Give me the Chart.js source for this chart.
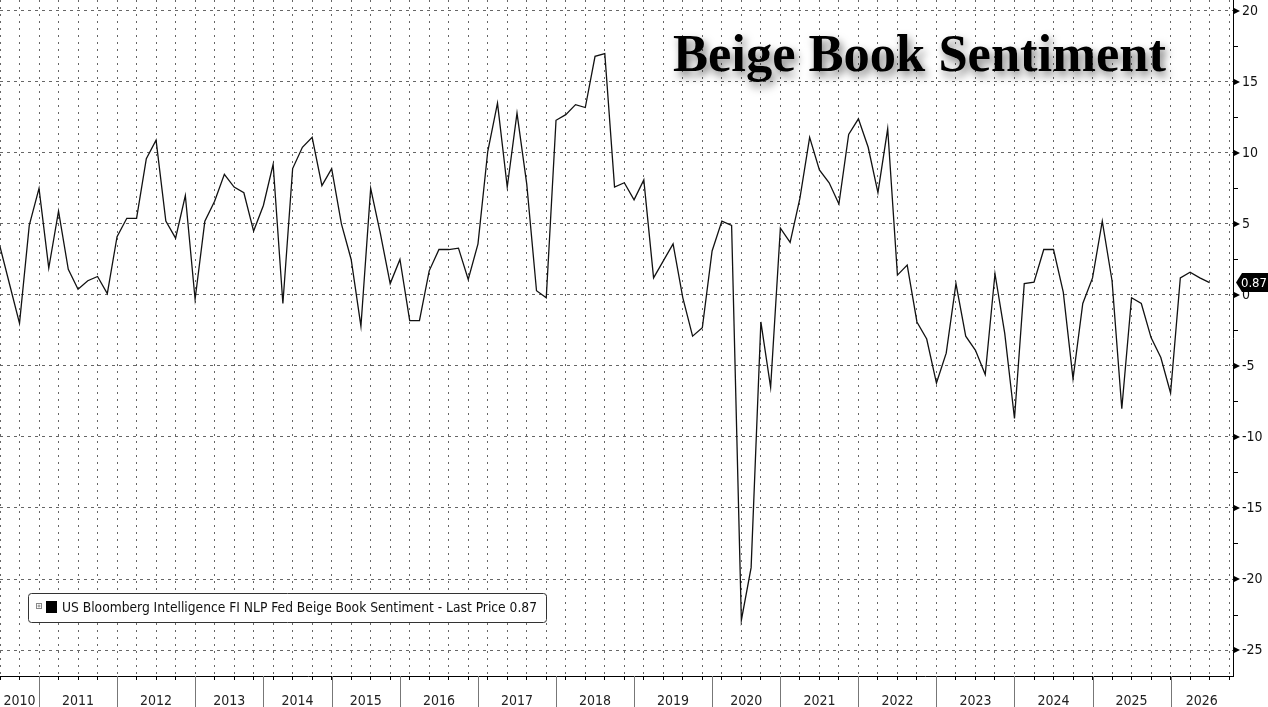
<!DOCTYPE html>
<html>
<head>
<meta charset="utf-8">
<title>Beige Book Sentiment</title>
<script src="https://cdn.jsdelivr.net/npm/chart.js@4.4.1/dist/chart.umd.min.js"></script>
<style>
  html, body { margin: 0; padding: 0; background: #fff; }
  #wrap { width: 1268px; height: 707px; }
</style>
</head>
<body>
<div id="wrap"><canvas id="beigeChart" width="1268" height="707"></canvas></div>
<script>
// year labels on the bottom axis and how many releases fall in each one
const years = [2010, 2011, 2012, 2013, 2014, 2015, 2016, 2017, 2018, 2019, 2020, 2021, 2022, 2023, 2024, 2025, 2026];
const pointsPerYear = [4, 8, 8, 7, 7, 7, 8, 8, 8, 8, 7, 8, 8, 8, 8, 8, 5];

// US Bloomberg Intelligence FI NLP Fed Beige Book Sentiment, one value per release
const sentiment = [
  3.4, 0.7, -2.0, 4.9,
  7.5, 1.9, 5.9, 1.8, 0.4, 1.0, 1.3, 0.1,
  4.1, 5.4, 5.4, 9.6, 10.9, 5.2, 4.0, 7.0,
  -0.3, 5.2, 6.6, 8.5, 7.6, 7.2, 4.5,
  6.3, 9.2, -0.6, 8.9, 10.4, 11.1, 7.7,
  8.9, 5.0, 2.5, -2.2, 7.5, 4.3, 0.8,
  2.5, -1.8, -1.8, 1.7, 3.2, 3.2, 3.3, 1.1,
  3.6, 10.1, 13.5, 7.6, 12.8, 7.8, 0.3, -0.2,
  12.3, 12.7, 13.4, 13.2, 16.8, 17.0, 7.6, 7.9,
  6.7, 8.1, 1.2, 2.4, 3.6, -0.2, -2.9, -2.3,
  3.1, 5.2, 4.9, -22.9, -19.2, -1.9, -6.5,
  4.7, 3.7, 6.8, 11.1, 8.8, 7.9, 6.4, 11.3,
  12.4, 10.4, 7.2, 11.7, 1.4, 2.1, -1.9, -3.1,
  -6.2, -4.1, 0.8, -2.9, -3.9, -5.6, 1.5, -2.7,
  -8.7, 0.8, 0.9, 3.2, 3.2, 0.2, -5.9, -0.6,
  1.2, 5.2, 1.0, -8.0, -0.2, -0.6, -3.0, -4.4,
  -6.9, 1.2, 1.6, 1.2, 0.87
];

const lastPrice = sentiment[sentiment.length - 1];
const narrowFont = '"Liberation Sans Narrow", "DejaVu Sans Condensed", sans-serif';

// first point index of every year
const yearStarts = [];
let acc = 0;
pointsPerYear.forEach(n => { yearStarts.push(acc); acc += n; });

const axisDecor = {
  id: 'axisDecor',
  afterDraw(chart) {
    const { ctx, chartArea: area, scales: { x, y } } = chart;
    ctx.save();

    // year dividers and labels under the axis
    ctx.strokeStyle = '#777';
    ctx.lineWidth = 1;
    ctx.font = '14px ' + narrowFont;
    ctx.fillStyle = '#222';
    ctx.textAlign = 'center';
    ctx.textBaseline = 'alphabetic';
    years.forEach((yr, i) => {
      const x0 = Math.max(x.getPixelForValue(yearStarts[i]), area.left);
      const x1 = i + 1 < years.length ? x.getPixelForValue(yearStarts[i + 1]) : area.right;
      if (i > 0) {
        const px = Math.round(x0) + 0.5;
        ctx.beginPath();
        ctx.moveTo(px, area.bottom);
        ctx.lineTo(px, chart.height);
        ctx.stroke();
      }
      ctx.fillText(String(yr), (x0 + x1) / 2, chart.height - 2);
    });

    // arrow markers at the major ticks, short marks halfway between
    ctx.fillStyle = '#000';
    ctx.strokeStyle = '#000';
    y.ticks.forEach(t => {
      const py = y.getPixelForValue(t.value);
      ctx.beginPath();
      ctx.moveTo(area.right, py - 3.5);
      ctx.lineTo(area.right + 7, py);
      ctx.lineTo(area.right, py + 3.5);
      ctx.closePath();
      ctx.fill();
      const half = y.getPixelForValue(t.value + 2.5);
      if (half > area.top) {
        const hy = Math.round(half) + 0.5;
        ctx.beginPath();
        ctx.moveTo(area.right, hy);
        ctx.lineTo(area.right + 5, hy);
        ctx.stroke();
      }
    });

    // last price badge
    const ly = y.getPixelForValue(lastPrice);
    const bx = area.right + 3;
    ctx.fillStyle = '#000';
    ctx.beginPath();
    ctx.moveTo(bx, ly);
    ctx.lineTo(bx + 6, ly - 9.5);
    ctx.lineTo(chart.width, ly - 9.5);
    ctx.lineTo(chart.width, ly + 9.5);
    ctx.lineTo(bx + 6, ly + 9.5);
    ctx.closePath();
    ctx.fill();
    ctx.fillStyle = '#fff';
    ctx.font = '13px ' + narrowFont;
    ctx.textAlign = 'right';
    ctx.textBaseline = 'middle';
    ctx.fillText(lastPrice.toFixed(2), chart.width - 1, ly + 1);

    ctx.restore();
  }
};

const overlays = {
  id: 'overlays',
  afterDraw(chart) {
    const ctx = chart.ctx;
    ctx.save();

    // title with soft shadow
    ctx.font = 'bold 52.5px "Liberation Serif", "Times New Roman", serif';
    ctx.textAlign = 'left';
    ctx.textBaseline = 'alphabetic';
    ctx.shadowColor = 'rgba(0,0,0,0.5)';
    ctx.shadowBlur = 8;
    ctx.shadowOffsetX = 3;
    ctx.shadowOffsetY = 5;
    ctx.fillStyle = '#000';
    ctx.fillText('Beige Book Sentiment', 673, 71);
    ctx.shadowColor = 'transparent';

    // legend box
    const lx = 28.5, ly = 593.5, lw = 518, lh = 29;
    ctx.beginPath();
    ctx.roundRect(lx, ly, lw, lh, 3);
    ctx.fillStyle = '#fff';
    ctx.fill();
    ctx.strokeStyle = '#333';
    ctx.lineWidth = 1;
    ctx.stroke();

    ctx.strokeStyle = '#888';
    ctx.strokeRect(36.5, 603.5, 5, 5);
    ctx.beginPath();
    ctx.moveTo(37.5, 606); ctx.lineTo(40.5, 606);
    ctx.moveTo(39, 604.5); ctx.lineTo(39, 607.5);
    ctx.stroke();
    ctx.fillStyle = '#000';
    ctx.fillRect(46, 601, 11, 12);

    ctx.font = '13.7px ' + narrowFont;
    ctx.fillStyle = '#111';
    ctx.fillText('US Bloomberg Intelligence FI NLP Fed Beige Book Sentiment - Last Price ' + lastPrice.toFixed(2), 62, 612);

    ctx.restore();
  }
};

new Chart(document.getElementById('beigeChart'), {
  type: 'line',
  data: {
    datasets: [{
      label: 'US Bloomberg Intelligence FI NLP Fed Beige Book Sentiment',
      data: sentiment.map((v, i) => ({ x: i, y: v })),
      borderColor: '#111',
      borderWidth: 1.3,
      pointRadius: 0,
      tension: 0,
      fill: false
    }]
  },
  options: {
    responsive: false,
    animation: false,
    devicePixelRatio: 1,
    layout: { padding: 0 },
    plugins: {
      legend: { display: false },
      title: { display: false },
      tooltip: { enabled: false }
    },
    scales: {
      x: {
        type: 'linear',
        position: 'bottom',
        min: 0,
        max: 126.4,
        ticks: { display: false, stepSize: 2, includeBounds: false },
        grid: { color: '#666', lineWidth: 1, drawTicks: true, tickLength: 4, tickColor: '#000' },
        border: { display: true, color: '#000', width: 1, dash: [2, 5] },
        afterFit(scale) {
          scale.height = 31;
          scale.paddingLeft = 0;
          scale.paddingRight = 0;
        }
      },
      y: {
        type: 'linear',
        position: 'right',
        min: -26.83,
        max: 20.77,
        ticks: {
          stepSize: 5,
          includeBounds: false,
          padding: 9,
          color: '#111',
          font: { family: narrowFont, size: 14 }
        },
        grid: { color: '#666', lineWidth: 1, drawTicks: false },
        border: { display: true, color: '#000', width: 1, dash: [3, 4] },
        afterFit(scale) {
          scale.width = 35;
          scale.paddingTop = 0;
          scale.paddingBottom = 0;
        }
      }
    }
  },
  plugins: [axisDecor, overlays]
});
</script>
</body>
</html>
